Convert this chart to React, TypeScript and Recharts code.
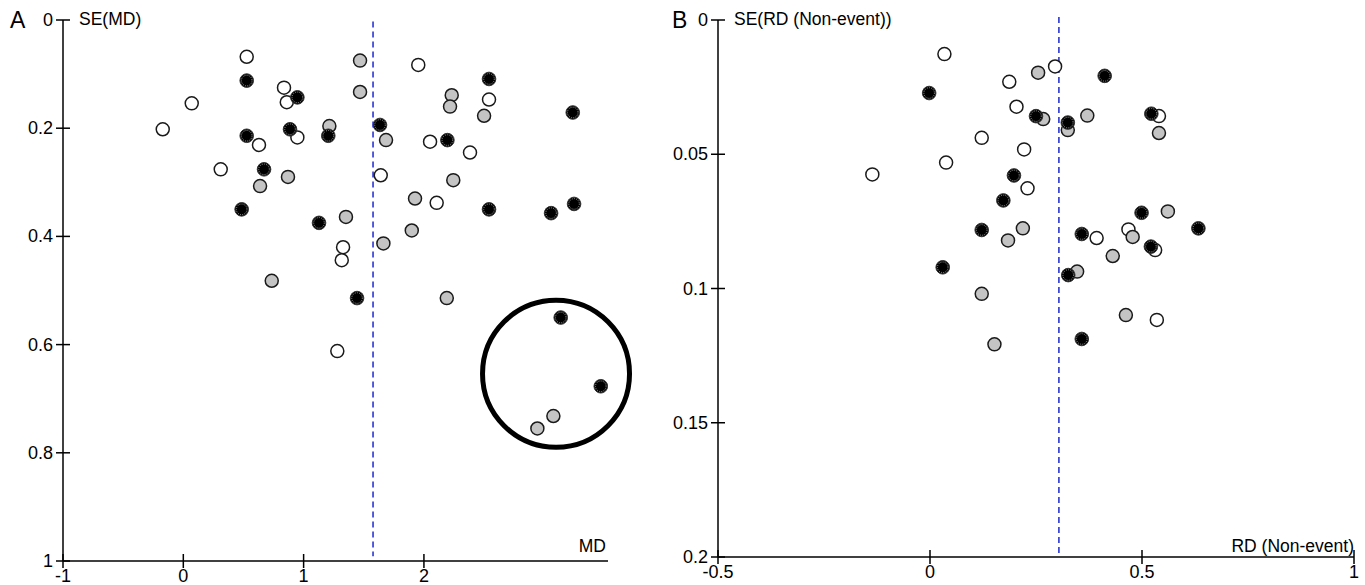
import React from 'react';
import { ScatterChart, Scatter, XAxis, YAxis, ReferenceLine, ReferenceDot } from 'recharts';

// Panel A: mean difference vs its standard error
const mdOpen = [
  { x: 0.527, y: 0.068 }, { x: 0.837, y: 0.125 }, { x: 0.86, y: 0.152 },
  { x: 0.07, y: 0.154 }, { x: -0.171, y: 0.202 }, { x: 0.629, y: 0.231 },
  { x: 0.948, y: 0.217 }, { x: 0.311, y: 0.276 }, { x: 1.641, y: 0.287 },
  { x: 1.953, y: 0.083 }, { x: 2.541, y: 0.147 }, { x: 2.051, y: 0.225 },
  { x: 2.383, y: 0.245 }, { x: 2.106, y: 0.338 }, { x: 1.328, y: 0.42 },
  { x: 1.317, y: 0.444 }, { x: 1.28, y: 0.612 },
];
const mdGrey = [
  { x: 1.214, y: 0.196 }, { x: 1.469, y: 0.075 }, { x: 1.469, y: 0.133 },
  { x: 1.685, y: 0.222 }, { x: 0.87, y: 0.29 }, { x: 0.638, y: 0.307 },
  { x: 1.352, y: 0.364 }, { x: 1.663, y: 0.413 }, { x: 2.231, y: 0.139 },
  { x: 2.217, y: 0.16 }, { x: 2.5, y: 0.177 }, { x: 2.244, y: 0.296 },
  { x: 1.926, y: 0.33 }, { x: 1.899, y: 0.389 }, { x: 0.735, y: 0.482 },
  { x: 2.19, y: 0.514 }, { x: 3.076, y: 0.732 }, { x: 2.943, y: 0.755 },
];
const mdFilled = [
  { x: 0.527, y: 0.112 }, { x: 0.948, y: 0.143 }, { x: 0.527, y: 0.214 },
  { x: 0.887, y: 0.202 }, { x: 1.205, y: 0.214 }, { x: 1.635, y: 0.194 },
  { x: 0.671, y: 0.276 }, { x: 0.485, y: 0.35 }, { x: 1.128, y: 0.375 },
  { x: 2.541, y: 0.109 }, { x: 3.237, y: 0.171 }, { x: 2.195, y: 0.222 },
  { x: 2.541, y: 0.35 }, { x: 3.057, y: 0.357 }, { x: 3.248, y: 0.34 },
  { x: 1.444, y: 0.514 }, { x: 3.137, y: 0.55 }, { x: 3.47, y: 0.677 },
];
const mdPooled = 1.577;
const mdHighlight = { x: 3.098, y: 0.654 };
const mdXTicks = [-1, 0, 1, 2];
const mdYTicks = [0, 0.2, 0.4, 0.6, 0.8, 1];

// Panel B: risk difference (non-event) vs its standard error
const rdOpen = [
  { x: 0.034, y: 0.0127 }, { x: 0.187, y: 0.023 }, { x: 0.295, y: 0.0173 },
  { x: 0.204, y: 0.0323 }, { x: 0.122, y: 0.0439 }, { x: 0.038, y: 0.0531 },
  { x: -0.136, y: 0.0575 }, { x: 0.222, y: 0.0482 }, { x: 0.23, y: 0.0627 },
  { x: 0.54, y: 0.0358 }, { x: 0.393, y: 0.0812 }, { x: 0.468, y: 0.078 },
  { x: 0.531, y: 0.0857 }, { x: 0.535, y: 0.1117 },
];
const rdGrey = [
  { x: 0.255, y: 0.0196 }, { x: 0.267, y: 0.0369 }, { x: 0.325, y: 0.041 },
  { x: 0.371, y: 0.0356 }, { x: 0.54, y: 0.0421 }, { x: 0.561, y: 0.0713 },
  { x: 0.219, y: 0.0776 }, { x: 0.184, y: 0.0821 }, { x: 0.478, y: 0.0808 },
  { x: 0.431, y: 0.0879 }, { x: 0.347, y: 0.0937 }, { x: 0.122, y: 0.102 },
  { x: 0.152, y: 0.1208 }, { x: 0.462, y: 0.1099 },
];
const rdFilled = [
  { x: -0.002, y: 0.0272 }, { x: 0.412, y: 0.0208 }, { x: 0.25, y: 0.0358 },
  { x: 0.325, y: 0.0382 }, { x: 0.522, y: 0.0349 }, { x: 0.198, y: 0.0579 },
  { x: 0.173, y: 0.0672 }, { x: 0.122, y: 0.0782 }, { x: 0.499, y: 0.0718 },
  { x: 0.633, y: 0.0776 }, { x: 0.358, y: 0.0797 }, { x: 0.521, y: 0.0844 },
  { x: 0.03, y: 0.0921 }, { x: 0.326, y: 0.095 }, { x: 0.358, y: 0.1188 },
];
const rdPooled = 0.304;
const rdXTicks = [-0.5, 0, 0.5, 1];
const rdYTicks = [0, 0.05, 0.1, 0.15, 0.2];

const FONT = '"Liberation Sans", Arial, sans-serif';

const OpenDot = (p: any) => (
  <circle cx={p.cx} cy={p.cy} r={6.5} fill="#fff" stroke="#1a1a1a" strokeWidth={1.5} />
);
const GreyDot = (p: any) => (
  <circle cx={p.cx} cy={p.cy} r={6.5} fill="#c4c4c4" stroke="#1a1a1a" strokeWidth={1.5} />
);
const FilledDot = (p: any) => (
  <g>
    <circle cx={p.cx} cy={p.cy} r={6.8} fill="#000" stroke="#333" strokeWidth={1} />
    <circle cx={p.cx} cy={p.cy} r={5.3} fill="none" stroke="#aaa" strokeWidth={0.9} strokeDasharray="1 1.2" />
  </g>
);

const YTick = (p: any) => (
  <g>
    <line x1={p.x - 7} x2={p.x + 7} y1={p.y} y2={p.y} stroke="#000" strokeWidth={1.5} />
    <text x={p.x - 10} y={p.y} textAnchor="end" dominantBaseline="central" fontSize={18} fontFamily={FONT} fill="#000">
      {String(p.payload.value)}
    </text>
  </g>
);
const XTick = (p: any) => (
  <g>
    <line x1={p.x} x2={p.x} y1={p.y - 7} y2={p.y + 7} stroke="#000" strokeWidth={1.5} />
    <text x={p.x} y={p.y + 7} dy="0.75em" textAnchor="middle" fontSize={18} fontFamily={FONT} fill="#000">
      {String(p.payload.value)}
    </text>
  </g>
);

const label = (text: string, left: number, top: number, size: number, right?: boolean) => (
  <div
    style={{
      position: 'absolute',
      top,
      left: right ? undefined : left,
      right: right ? 1365 - left : undefined,
      fontFamily: FONT,
      fontSize: size,
      lineHeight: `${size}px`,
      whiteSpace: 'nowrap',
      color: '#000',
    }}
  >
    {text}
  </div>
);

export default function App() {
  return (
    <div style={{ position: 'absolute', left: 0, top: 0, width: 1365, height: 585, background: '#fff', overflow: 'hidden' }}>
      <div style={{ position: 'absolute', left: 0, top: 0 }}>
        <ScatterChart width={660} height={585} margin={{ top: 20, right: 52, bottom: 0, left: 0 }}>
          <XAxis
            type="number"
            dataKey="x"
            domain={[-1, 3.53]}
            ticks={mdXTicks}
            height={24}
            tickSize={0}
            tickMargin={0}
            tickLine={false}
            axisLine={{ stroke: '#000', strokeWidth: 1.5 }}
            tick={<XTick />}
            allowDataOverflow
          />
          <YAxis
            type="number"
            dataKey="y"
            domain={[0, 1]}
            reversed
            ticks={mdYTicks}
            width={63}
            tickSize={0}
            tickMargin={0}
            tickLine={false}
            axisLine={{ stroke: '#000', strokeWidth: 1.5 }}
            tick={<YTick />}
            allowDataOverflow
          />
          <ReferenceLine
            segment={[{ x: mdPooled, y: 0.003 }, { x: mdPooled, y: 0.991 }]}
            stroke="#2a35d6"
            strokeWidth={1.6}
            strokeDasharray="6 4"
            ifOverflow="visible"
          />
          <Scatter data={mdOpen} shape={OpenDot} isAnimationActive={false} />
          <Scatter data={mdGrey} shape={GreyDot} isAnimationActive={false} />
          <Scatter data={mdFilled} shape={FilledDot} isAnimationActive={false} />
          <ReferenceDot
            x={mdHighlight.x}
            y={mdHighlight.y}
            r={73.5}
            fill="none"
            stroke="#000"
            strokeWidth={5}
            ifOverflow="visible"
          />
        </ScatterChart>
      </div>
      <div style={{ position: 'absolute', left: 655, top: 0 }}>
        <ScatterChart width={710} height={585} margin={{ top: 20, right: 11, bottom: 0, left: 0 }}>
          <XAxis
            type="number"
            dataKey="x"
            domain={[-0.5, 1]}
            ticks={rdXTicks}
            height={28}
            tickSize={0}
            tickMargin={0}
            tickLine={false}
            axisLine={{ stroke: '#000', strokeWidth: 1.5 }}
            tick={<XTick />}
            allowDataOverflow
          />
          <YAxis
            type="number"
            dataKey="y"
            domain={[0, 0.2]}
            reversed
            ticks={rdYTicks}
            width={63}
            tickSize={0}
            tickMargin={0}
            tickLine={false}
            axisLine={{ stroke: '#000', strokeWidth: 1.5 }}
            tick={<YTick />}
            allowDataOverflow
          />
          <ReferenceLine
            segment={[{ x: rdPooled, y: -0.0011 }, { x: rdPooled, y: 0.1985 }]}
            stroke="#2a35d6"
            strokeWidth={1.6}
            strokeDasharray="6 4"
            ifOverflow="visible"
          />
          <Scatter data={rdOpen} shape={OpenDot} isAnimationActive={false} />
          <Scatter data={rdGrey} shape={GreyDot} isAnimationActive={false} />
          <Scatter data={rdFilled} shape={FilledDot} isAnimationActive={false} />
        </ScatterChart>
      </div>
      {label('A', 10, 9, 23)}
      {label('SE(MD)', 79, 11, 17.5)}
      {label('MD', 606, 538, 17.5, true)}
      {label('B', 672, 9, 23)}
      {label('SE(RD (Non-event))', 734, 11, 17.5)}
      {label('RD (Non-event)', 1354, 538, 17.5, true)}
    </div>
  );
}
